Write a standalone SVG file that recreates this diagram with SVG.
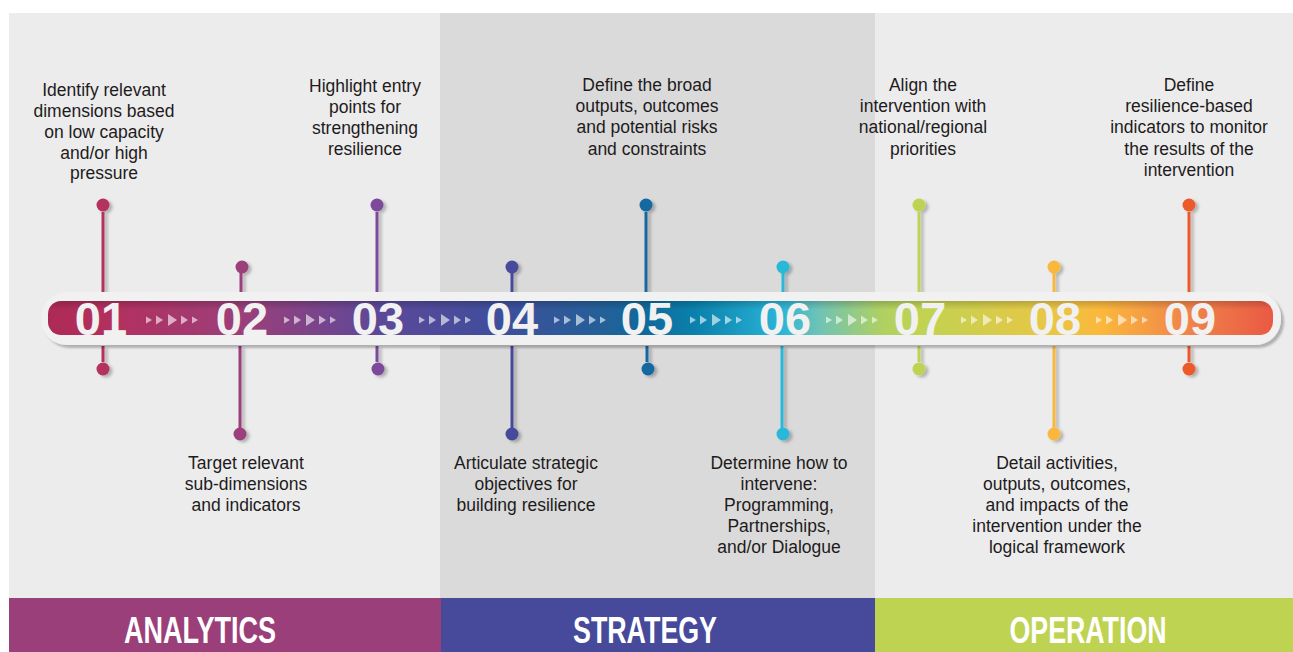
<svg xmlns="http://www.w3.org/2000/svg" width="1293" height="652" viewBox="0 0 1293 652">
<defs>
<style>
.lbl{font-family:"Liberation Sans",Arial,sans-serif;font-size:17.5px;fill:#1e1b1c;text-anchor:middle}
.num{font-family:"Liberation Sans",Arial,sans-serif;font-size:47px;font-weight:bold;fill:#f1f1f1;text-anchor:middle}
.phase{font-family:"Liberation Sans",Arial,sans-serif;font-size:36px;font-weight:bold;fill:#ffffff;text-anchor:middle}
.chev{fill:#ffffff;fill-opacity:0.6}
</style>
<linearGradient id="barGrad" x1="48" y1="0" x2="1272" y2="0" gradientUnits="userSpaceOnUse">
<stop offset="0" stop-color="#ad2a57"/>
<stop offset="0.05" stop-color="#b3305e"/>
<stop offset="0.16" stop-color="#9b3f7a"/>
<stop offset="0.27" stop-color="#5d4899"/>
<stop offset="0.37" stop-color="#3e4e9b"/>
<stop offset="0.45" stop-color="#255f98"/>
<stop offset="0.49" stop-color="#0f6a9b"/>
<stop offset="0.53" stop-color="#0a82ad"/>
<stop offset="0.60" stop-color="#2cb5d7"/>
<stop offset="0.63" stop-color="#6fc3b5"/>
<stop offset="0.68" stop-color="#aed063"/>
<stop offset="0.71" stop-color="#bfd352"/>
<stop offset="0.82" stop-color="#e9c645"/>
<stop offset="0.86" stop-color="#fab83c"/>
<stop offset="0.93" stop-color="#f0854a"/>
<stop offset="1" stop-color="#ea5a44"/>
</linearGradient>
<linearGradient id="topShade" x1="0" y1="0" x2="0" y2="1">
<stop offset="0" stop-color="#000" stop-opacity="0.18"/>
<stop offset="0.25" stop-color="#000" stop-opacity="0"/>
</linearGradient>
<filter id="pinShadow" x="-50%" y="-20%" width="250%" height="150%">
<feDropShadow dx="3" dy="2" stdDeviation="1.6" flood-color="#000" flood-opacity="0.25"/>
</filter>
<filter id="barShadow" x="-5%" y="-30%" width="110%" height="170%">
<feDropShadow dx="3" dy="3" stdDeviation="1.2" flood-color="#000" flood-opacity="0.25"/>
</filter>
<g id="chevGroup">
<polygon class="chev" points="-26,-3.5 -20,0 -26,3.5"/>
<polygon class="chev" points="-16,-4.5 -9,0 -16,4.5"/>
<polygon class="chev" points="-4,-6 5,0 -4,6"/>
<polygon class="chev" points="9,-4.5 16,0 9,4.5"/>
<polygon class="chev" points="20,-3.5 26,0 20,3.5"/>
</g>
</defs>

<g id="background">
<rect x="0" y="0" width="1293" height="652" fill="#ffffff"/>
<rect x="9" y="13" width="431" height="585" fill="#ececec"/>
<rect x="440" y="13" width="435" height="585" fill="#dadada"/>
<rect x="875" y="13" width="418" height="585" fill="#ececec"/>
</g>

<g id="connectors" filter="url(#pinShadow)">
<line x1="103" y1="212" x2="103" y2="294" stroke="#b3305e" stroke-width="3"/>
<circle cx="103" cy="205" r="6.5" fill="#b3305e"/>
<line x1="103" y1="346" x2="103" y2="362" stroke="#b3305e" stroke-width="3"/>
<circle cx="103" cy="369" r="6.5" fill="#b3305e"/>
<line x1="241" y1="272" x2="241" y2="294" stroke="#9b3f7a" stroke-width="3"/>
<circle cx="242" cy="267" r="6.5" fill="#9b3f7a"/>
<line x1="240" y1="346" x2="240" y2="428" stroke="#9b3f7a" stroke-width="3"/>
<circle cx="240" cy="434" r="6.5" fill="#9b3f7a"/>
<line x1="377" y1="212" x2="377" y2="294" stroke="#7b4a9b" stroke-width="3"/>
<circle cx="377" cy="205" r="6.5" fill="#7b4a9b"/>
<line x1="377" y1="346" x2="377" y2="362" stroke="#7b4a9b" stroke-width="3"/>
<circle cx="378" cy="369" r="6.5" fill="#7b4a9b"/>
<line x1="512" y1="272" x2="512" y2="294" stroke="#464a9b" stroke-width="3"/>
<circle cx="512" cy="267" r="6.5" fill="#464a9b"/>
<line x1="512" y1="346" x2="512" y2="428" stroke="#464a9b" stroke-width="3"/>
<circle cx="512" cy="434" r="6.5" fill="#464a9b"/>
<line x1="646" y1="212" x2="646" y2="294" stroke="#1469a0" stroke-width="3"/>
<circle cx="646" cy="205" r="6.5" fill="#1469a0"/>
<line x1="647" y1="346" x2="647" y2="362" stroke="#1469a0" stroke-width="3"/>
<circle cx="648" cy="369" r="6.5" fill="#1469a0"/>
<line x1="783" y1="272" x2="783" y2="294" stroke="#2bb8d8" stroke-width="3"/>
<circle cx="783" cy="267" r="6.5" fill="#2bb8d8"/>
<line x1="782" y1="346" x2="782" y2="428" stroke="#2bb8d8" stroke-width="3"/>
<circle cx="783" cy="434" r="6.5" fill="#2bb8d8"/>
<line x1="919" y1="212" x2="919" y2="294" stroke="#bfd352" stroke-width="3"/>
<circle cx="919" cy="205" r="6.5" fill="#bfd352"/>
<line x1="919" y1="346" x2="919" y2="362" stroke="#bfd352" stroke-width="3"/>
<circle cx="919" cy="369" r="6.5" fill="#bfd352"/>
<line x1="1054" y1="272" x2="1054" y2="294" stroke="#f9b83e" stroke-width="3"/>
<circle cx="1054" cy="267" r="6.5" fill="#f9b83e"/>
<line x1="1054" y1="346" x2="1054" y2="428" stroke="#f9b83e" stroke-width="3"/>
<circle cx="1054" cy="434" r="6.5" fill="#f9b83e"/>
<line x1="1189" y1="212" x2="1189" y2="294" stroke="#ec5a2c" stroke-width="3"/>
<circle cx="1189" cy="205" r="6.5" fill="#ec5a2c"/>
<line x1="1189" y1="346" x2="1189" y2="362" stroke="#ec5a2c" stroke-width="3"/>
<circle cx="1189" cy="369" r="6.5" fill="#ec5a2c"/>
</g>

<g id="timeline-bar">
<rect x="41" y="292" width="1240" height="53" rx="26" fill="#f1f1f1" filter="url(#barShadow)"/>
<rect x="48" y="301" width="1225" height="34" rx="13" fill="url(#barGrad)"/>
<rect x="48" y="301" width="1225" height="34" rx="13" fill="url(#topShade)"/>
<use href="#chevGroup" x="172" y="320"/>
<use href="#chevGroup" x="310" y="320"/>
<use href="#chevGroup" x="445" y="320"/>
<use href="#chevGroup" x="580" y="320"/>
<use href="#chevGroup" x="716" y="320"/>
<use href="#chevGroup" x="852" y="320"/>
<use href="#chevGroup" x="987" y="320"/>
<use href="#chevGroup" x="1122" y="320"/>
</g>

<g id="step01">
<text class="num" x="101" y="335">01</text>
<text class="lbl" x="104" y="96">Identify relevant</text>
<text class="lbl" x="104" y="117">dimensions based</text>
<text class="lbl" x="104" y="138">on low capacity</text>
<text class="lbl" x="104" y="159">and/or high</text>
<text class="lbl" x="104" y="179">pressure</text>
</g>
<g id="step02">
<text class="num" x="242" y="335">02</text>
<text class="lbl" x="246" y="469">Target relevant</text>
<text class="lbl" x="246" y="490">sub-dimensions</text>
<text class="lbl" x="246" y="511">and indicators</text>
</g>
<g id="step03">
<text class="num" x="378" y="335">03</text>
<text class="lbl" x="365" y="92">Highlight entry</text>
<text class="lbl" x="365" y="113">points for</text>
<text class="lbl" x="365" y="134">strengthening</text>
<text class="lbl" x="365" y="155">resilience</text>
</g>
<g id="step04">
<text class="num" x="512" y="335">04</text>
<text class="lbl" x="526" y="469">Articulate strategic</text>
<text class="lbl" x="526" y="490">objectives for</text>
<text class="lbl" x="526" y="511">building resilience</text>
</g>
<g id="step05">
<text class="num" x="647" y="335">05</text>
<text class="lbl" x="647" y="91">Define the broad</text>
<text class="lbl" x="647" y="112">outputs, outcomes</text>
<text class="lbl" x="647" y="133">and potential risks</text>
<text class="lbl" x="647" y="155">and constraints</text>
</g>
<g id="step06">
<text class="num" x="785" y="335">06</text>
<text class="lbl" x="779" y="469">Determine how to</text>
<text class="lbl" x="779" y="490">intervene:</text>
<text class="lbl" x="779" y="511">Programming,</text>
<text class="lbl" x="779" y="532">Partnerships,</text>
<text class="lbl" x="779" y="553">and/or Dialogue</text>
</g>
<g id="step07">
<text class="num" x="920" y="335">07</text>
<text class="lbl" x="923" y="91">Align the</text>
<text class="lbl" x="923" y="112">intervention with</text>
<text class="lbl" x="923" y="133">national/regional</text>
<text class="lbl" x="923" y="155">priorities</text>
</g>
<g id="step08">
<text class="num" x="1055" y="335">08</text>
<text class="lbl" x="1057" y="469">Detail activities,</text>
<text class="lbl" x="1057" y="490">outputs, outcomes,</text>
<text class="lbl" x="1057" y="511">and impacts of the</text>
<text class="lbl" x="1057" y="532">intervention under the</text>
<text class="lbl" x="1057" y="553">logical framework</text>
</g>
<g id="step09">
<text class="num" x="1190" y="335">09</text>
<text class="lbl" x="1189" y="91">Define</text>
<text class="lbl" x="1189" y="112">resilience-based</text>
<text class="lbl" x="1189" y="133">indicators to monitor</text>
<text class="lbl" x="1189" y="155">the results of the</text>
<text class="lbl" x="1189" y="176">intervention</text>
</g>

<g id="phase-analytics">
<rect x="9" y="598" width="432" height="54" fill="#9b3f7a"/>
<text class="phase" x="200" y="643" textLength="152" lengthAdjust="spacingAndGlyphs">ANALYTICS</text>
</g>
<g id="phase-strategy">
<rect x="441" y="598" width="434" height="54" fill="#474a9b"/>
<text class="phase" x="645" y="643" textLength="144" lengthAdjust="spacingAndGlyphs">STRATEGY</text>
</g>
<g id="phase-operation">
<rect x="875" y="598" width="418" height="54" fill="#bfd352"/>
<text class="phase" x="1088" y="643" textLength="157" lengthAdjust="spacingAndGlyphs">OPERATION</text>
</g>
</svg>
